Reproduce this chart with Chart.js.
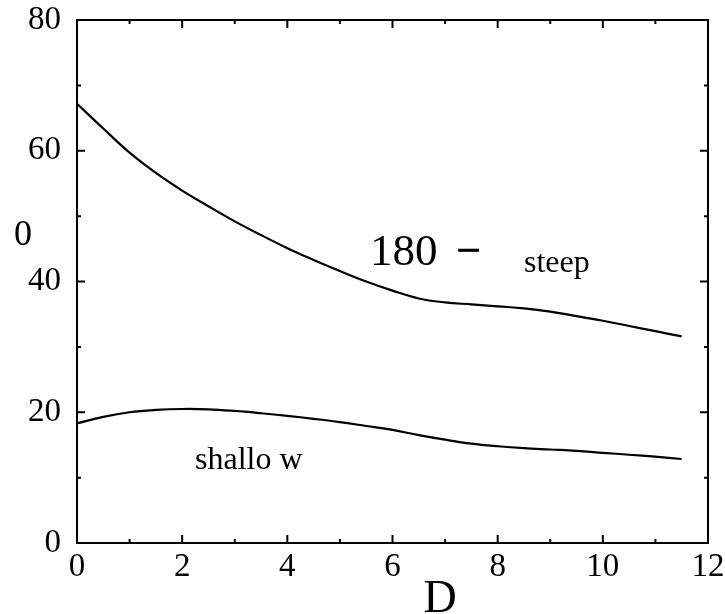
<!DOCTYPE html>
<html>
<head>
<meta charset="utf-8">
<script src="https://cdn.jsdelivr.net/npm/chart.js@4/dist/chart.umd.min.js"></script>
<style>
  html, body { margin: 0; padding: 0; background: #fff; }
  #wrap { width: 725px; height: 614px; }
</style>
</head>
<body>
<div id="wrap"><canvas id="angleChart" width="725" height="614"></canvas></div>
<script>
// D values shared by both curves
const dValues = [0, 0.5, 1, 1.5, 2, 2.5, 3, 3.5, 4, 4.5, 5, 5.5, 6, 6.5, 7, 7.5, 8, 8.5, 9, 9.5, 10, 10.5, 11, 11.5];
// 180 - theta, steep branch
const steepValues = [67.2, 63.4, 59.7, 56.6, 53.9, 51.5, 49.2, 47.1, 45.1, 43.3, 41.6, 40.0, 38.6, 37.4, 36.8, 36.5, 36.2, 35.9, 35.4, 34.7, 34.0, 33.2, 32.4, 31.6];
// theta, shallow branch
const shallowValues = [18.3, 19.3, 20.0, 20.35, 20.5, 20.45, 20.2, 19.85, 19.45, 19.0, 18.5, 17.9, 17.3, 16.5, 15.8, 15.2, 14.8, 14.5, 14.3, 14.1, 13.8, 13.5, 13.2, 12.85];
const xTicks = [0, 2, 4, 6, 8, 10, 12];
const yTicks = [0, 20, 40, 60, 80];

const serif = "'Liberation Serif', 'DejaVu Serif', serif";

function toPoints(xs, ys) {
  return xs.map((x, i) => ({ x: x, y: ys[i] }));
}

// frame with inward ticks on all four sides, plus free text labels
const framePlugin = {
  id: 'frame',
  afterDraw(chart) {
    const ctx = chart.ctx;
    const xs = chart.scales.x, ys = chart.scales.y;
    const a = chart.chartArea;
    ctx.save();
    ctx.strokeStyle = '#000';
    ctx.lineWidth = 2;
    ctx.strokeRect(a.left, a.top, a.right - a.left, a.bottom - a.top);

    ctx.beginPath();
    for (let v = 0; v <= 12; v += 1) {
      const px = xs.getPixelForValue(v);
      const len = v % 2 === 0 ? 8 : 4;
      ctx.moveTo(px, a.bottom); ctx.lineTo(px, a.bottom - len);
      ctx.moveTo(px, a.top); ctx.lineTo(px, a.top + len);
    }
    for (let v = 0; v <= 80; v += 10) {
      const py = ys.getPixelForValue(v);
      const len = v % 20 === 0 ? 8 : 4;
      ctx.moveTo(a.left, py); ctx.lineTo(a.left + len, py);
      ctx.moveTo(a.right, py); ctx.lineTo(a.right - len, py);
    }
    ctx.stroke();

    ctx.fillStyle = '#000';
    ctx.textBaseline = 'alphabetic';
    ctx.textAlign = 'left';
    ctx.font = '45px ' + serif;
    ctx.fillText('180', 370, 265);
    ctx.font = 'bold 45px ' + serif;
    ctx.fillText('\u2212', 456, 265);
    ctx.font = '32px ' + serif;
    ctx.fillText('steep', 524, 272);
    ctx.fillText('shallo w', 195, 469);

    ctx.textAlign = 'center';
    ctx.font = '36px ' + serif;
    ctx.fillText('0', 23, 245);
    ctx.font = '46px ' + serif;
    ctx.fillText('D', 440, 612);
    ctx.restore();
  }
};

const lineStyle = {
  borderColor: '#000',
  borderWidth: 2.2,
  pointRadius: 0,
  fill: false,
  tension: 0.4
};

new Chart(document.getElementById('angleChart'), {
  type: 'line',
  data: {
    datasets: [
      Object.assign({ label: 'steep', data: toPoints(dValues, steepValues) }, lineStyle),
      Object.assign({ label: 'shallow', data: toPoints(dValues, shallowValues) }, lineStyle)
    ]
  },
  options: {
    responsive: false,
    animation: false,
    layout: { padding: { top: 20, right: 17, left: 0, bottom: 0 } },
    plugins: { legend: { display: false }, tooltip: { enabled: false } },
    scales: {
      x: {
        type: 'linear',
        min: 0, max: 12,
        grid: { display: false, drawTicks: false },
        border: { display: false },
        afterBuildTicks(s) { s.ticks = xTicks.map(v => ({ value: v })); },
        afterFit(s) { s.height = 71; s.paddingLeft = 0; s.paddingRight = 0; },
        ticks: {
          color: '#000',
          padding: 5,
          maxRotation: 0,
          font: { family: serif, size: 33 }
        }
      },
      y: {
        type: 'linear',
        min: 0, max: 80,
        grid: { display: false, drawTicks: false },
        border: { display: false },
        afterBuildTicks(s) { s.ticks = yTicks.map(v => ({ value: v })); },
        afterFit(s) { s.width = 77; s.paddingTop = 0; s.paddingBottom = 0; },
        ticks: {
          color: '#000',
          padding: 16,
          font: { family: serif, size: 33 }
        }
      }
    }
  },
  plugins: [framePlugin]
});
</script>
</body>
</html>
